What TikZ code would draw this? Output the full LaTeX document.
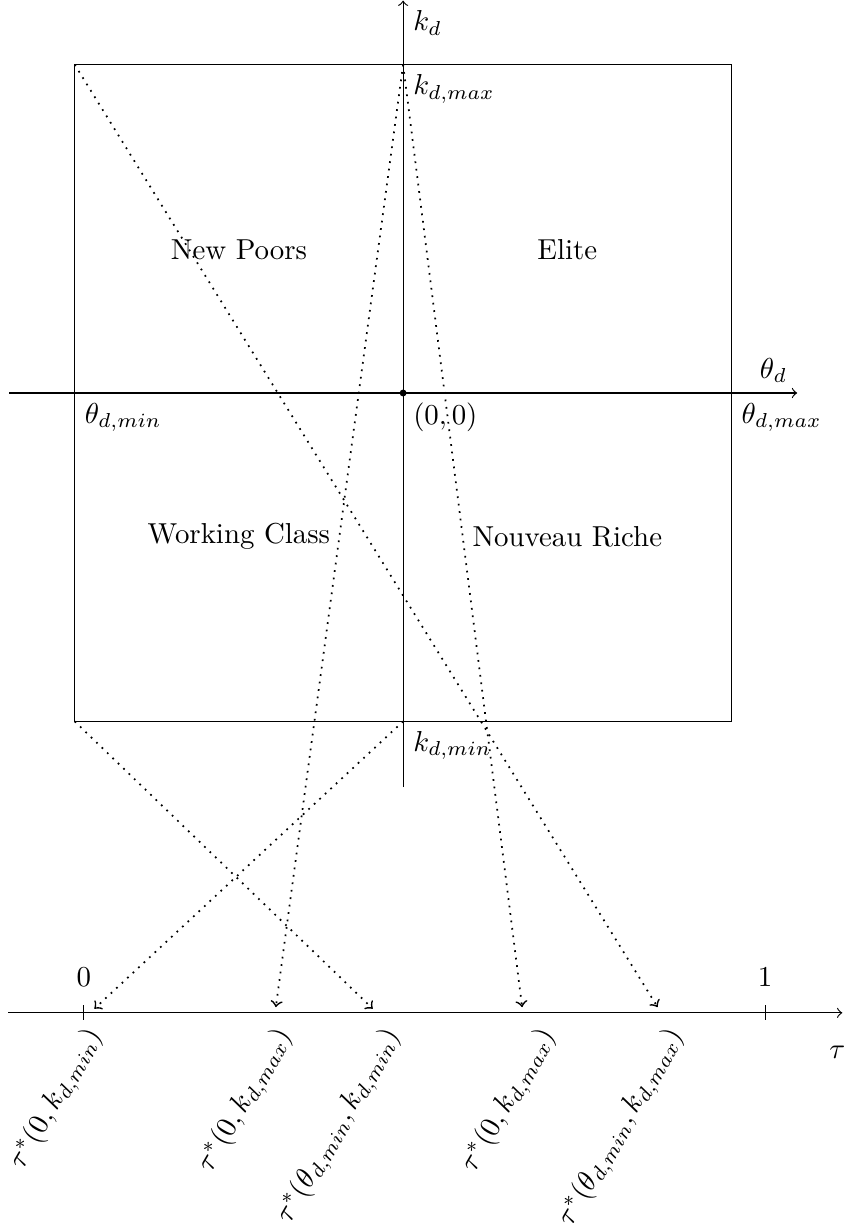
\documentclass[tikz,border=0pt]{standalone}
\usetikzlibrary{arrows,calc}
\begin{document}
\begin{tikzpicture}
\useasboundingbox (-4.91,-10.11) rectangle (5.445,4.787);
\tikzset{
  axisline/.style={->},
  mapline/.style={dotted,->,line width=0.6pt},
  rotlabel/.style={rotate=60,anchor=north east},
}
% quadrant box and axes
\node[draw,minimum width=8cm,minimum height=8cm,inner sep=0pt] (box) at (0,0) {};
\coordinate (O) at (0,0);
\coordinate (T) at (0,4);
\coordinate (B) at (0,-4);
\coordinate (L) at (-4,0);
\coordinate (R) at (4,0);
\coordinate (TL) at (-4,4);
\coordinate (BL) at (-4,-4);
\coordinate (xs) at (-4.8,0);
\coordinate (xe) at (4.8,0);
\coordinate (ys) at (0,-4.8);
\coordinate (ye) at (0,4.78);
\draw[axisline] (xs) -- (xe);
\draw[axisline] (ys) -- (ye);
\fill (O) circle (1.2pt);
\node[below right] (lO) at (O) {$(0,0)$};
\node[below right] (lkd) at (ye) {$k_d$};
\node[below right] (lkmax) at (T) {$k_{d,max}$};
\node[below right] (lkmin) at (B) {$k_{d,min}$};
\node[below right] (lthmin) at (L) {$\theta_{d,min}$};
\node[below right] (lthmax) at (R) {$\theta_{d,max}$};
\node[above left] (lthd) at (xe) {$\theta_d$};
\node (np) at (-2,1.75) {New Poors};
\node (el) at (2,1.75) {Elite};
\node (wc) at (-2,-1.75) {Working Class};
\node (nr) at (2,-1.75) {Nouveau Riche};
% tau axis
\coordinate (ts) at (-4.81,-7.55);
\coordinate (te) at (5.35,-7.55);
\draw[axisline] (ts) -- (te);
\coordinate (t0) at (-3.89,-7.55);
\coordinate (t1x) at (4.41,-7.55);
\draw ($(t0)+(0,0.09)$) -- ($(t0)-(0,0.09)$);
\draw ($(t1x)+(0,0.09)$) -- ($(t1x)-(0,0.09)$);
\node[above] (l0) at (-3.89,-7.35) {$0$};
\node[above] (l1) at (4.41,-7.35) {$1$};
\node (ltau) at (5.29,-8.03) {$\tau$};
% arrow ends
\coordinate (a1) at (-3.76,-7.5);
\coordinate (a2) at (-1.55,-7.48);
\coordinate (a3) at (-0.37,-7.5);
\coordinate (a4) at (1.45,-7.48);
\coordinate (a5) at (3.10,-7.48);
\draw[mapline] (B) -- (a1);
\draw[mapline] (T) -- (a2);
\draw[mapline] (BL) -- (a3);
\draw[mapline] (T) -- (a4);
\draw[mapline] (TL) -- (a5);
% rotated labels
\node[rotlabel] (r1) at (-3.95,-7.51) {$\tau^*(0,k_{d,min})$};
\node[rotlabel] (r2) at (-1.64,-7.51) {$\tau^*(0,k_{d,max})$};
\node[rotlabel] (r3) at (-0.32,-7.51) {$\tau^*(\theta_{d,min},k_{d,min})$};
\node[rotlabel] (r4) at (1.57,-7.51) {$\tau^*(0,k_{d,max})$};
\node[rotlabel] (r5) at (3.13,-7.51) {$\tau^*(\theta_{d,min},k_{d,max})$};
\end{tikzpicture}
\end{document}
